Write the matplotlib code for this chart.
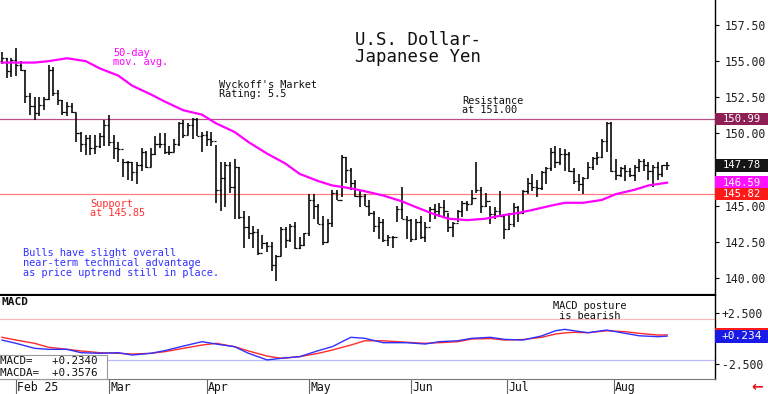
import matplotlib
matplotlib.use("Agg")
import matplotlib.pyplot as plt
from matplotlib.patches import Rectangle
from matplotlib.transforms import blended_transform_factory
import numpy as np

W, H = 768, 394
FONT = "DejaVu Sans Mono"

# ---- daily bars (trading-day index 0 = Jan 29 2025) ----
high = [155.6, 155.2, 155.2, 155.9, 155.0, 154.4, 152.8, 152.5, 152.5, 152.5,
        154.7, 154.6, 153.0, 152.3, 152.2, 152.1, 151.4, 150.1, 149.9, 149.9,
        149.9, 150.0, 150.9, 151.3, 149.9, 149.4, 148.2, 148.1, 148.0, 148.0,
        149.0, 148.8, 149.0, 149.8, 150.0, 150.0, 149.1, 149.6, 150.8, 150.9,
        150.7, 151.1, 151.1, 150.1, 150.2, 150.1, 149.2, 148.0, 148.0, 148.0,
        148.2, 147.7, 144.6, 144.3, 143.6, 143.4, 143.0, 142.5, 142.5, 141.6,
        143.5, 143.5, 143.7, 143.9, 142.8, 143.1, 145.8, 145.8, 145.1, 144.3,
        144.1, 146.1, 146.1, 148.5, 148.4, 147.6, 146.8, 146.1, 145.8, 145.4,
        144.6, 144.2, 144.1, 143.0, 142.9, 145.0, 146.3, 144.3, 144.1, 144.1,
        144.3, 143.9, 144.9, 145.1, 145.2, 145.4, 144.5, 143.9, 144.7, 145.3,
        145.3, 146.1, 148.0, 146.3, 145.9, 145.0, 144.9, 146.0, 144.3, 144.5,
        145.2, 145.0, 146.1, 146.9, 147.2, 146.8, 147.4, 147.7, 149.0, 149.1,
        149.0, 148.9, 148.7, 147.6, 147.2, 147.0, 148.0, 148.4, 148.7, 149.6,
        150.8, 150.8, 148.2, 147.7, 147.8, 147.6, 147.8, 148.2, 148.2, 148.0,
        147.8, 148.0, 147.8, 148.0]
low = [154.8, 153.8, 153.9, 154.0, 154.3, 152.1, 151.3, 150.9, 151.2, 151.6,
       152.3, 152.6, 152.0, 151.3, 151.2, 151.4, 149.4, 148.7, 148.5, 148.5,
       148.6, 149.0, 149.1, 149.1, 148.2, 148.0, 147.0, 146.8, 146.7, 146.5,
       147.4, 147.6, 147.7, 148.5, 149.0, 148.6, 148.5, 148.7, 149.1, 149.7,
       149.9, 149.6, 149.8, 148.7, 149.1, 149.1, 145.2, 144.6, 144.9, 145.9,
       144.1, 144.1, 142.1, 142.7, 142.1, 141.6, 142.0, 141.8, 140.5, 139.8,
       141.5, 142.1, 142.5, 142.0, 142.0, 142.2, 142.9, 144.1, 143.7, 142.3,
       142.5, 143.5, 145.4, 145.6, 146.6, 146.1, 145.6, 144.9, 145.0, 144.3,
       143.2, 142.7, 142.5, 142.2, 142.1, 143.9, 144.1, 142.7, 142.5, 142.6,
       142.7, 142.5, 143.9, 144.1, 144.2, 144.2, 143.2, 142.8, 143.9, 144.2,
       144.6, 145.1, 145.9, 144.5, 144.9, 143.7, 144.1, 144.2, 142.7, 143.3,
       143.5, 143.9, 144.4, 145.8, 146.0, 145.6, 146.1, 146.5, 147.4, 147.6,
       147.8, 147.4, 147.3, 146.5, 146.0, 145.8, 146.9, 147.5, 147.8, 148.3,
       148.7, 147.3, 146.8, 147.0, 146.7, 147.0, 146.7, 147.3, 147.4, 146.8,
       146.3, 146.8, 147.0, 147.5]
close = [155.2, 154.3, 155.1, 154.7, 154.4, 152.6, 151.9, 151.4, 152.0, 152.4,
         154.4, 152.8, 152.3, 151.5, 151.9, 151.5, 150.0, 149.3, 149.7, 149.0,
         149.1, 149.8, 150.6, 149.4, 149.0, 148.9, 148.0, 148.0, 147.3, 147.8,
         148.7, 147.7, 148.6, 149.3, 149.3, 148.7, 148.7, 149.3, 150.7, 149.9,
         150.6, 151.0, 149.8, 149.9, 149.6, 149.5, 146.1, 146.9, 147.8, 146.3,
         147.7, 144.2, 143.5, 143.1, 143.2, 141.7, 142.4, 142.2, 140.9, 141.5,
         143.4, 142.6, 143.6, 142.1, 142.3, 143.1, 145.4, 145.0, 143.7, 142.5,
         143.8, 145.9, 145.4, 148.4, 147.5, 146.6, 145.7, 145.7, 145.0, 144.5,
         143.6, 143.9, 142.6, 142.8, 142.8, 144.8, 144.1, 144.0, 142.7, 143.9,
         142.8, 143.5, 144.8, 144.6, 144.9, 144.6, 143.5, 143.8, 144.6, 145.2,
         145.1, 145.5, 146.1, 145.0, 145.3, 144.4, 144.6, 144.3, 143.4, 143.7,
         144.9, 144.5, 146.0, 146.6, 146.3, 146.2, 147.3, 147.6, 148.7, 148.0,
         148.6, 148.6, 147.4, 146.7, 146.5, 146.9, 147.7, 148.3, 148.4, 149.5,
         150.7, 147.4, 147.1, 147.6, 147.4, 147.1, 147.7, 148.1, 147.8, 147.4,
         147.7, 147.2, 147.8, 147.78]
first_open = 155.0

# ---- 50-day moving average ----
ma_idx = [0, 7, 10, 14, 18, 21, 25, 28, 32, 35, 39, 43, 46, 50, 53, 57, 61, 64,
          68, 71, 75, 78, 82, 86, 89, 93, 96, 100, 104, 107, 111, 114, 118, 121,
          125, 129, 132, 136, 139, 143]
ma_val = [154.9, 154.9, 155.0, 155.2, 155.0, 154.5, 154.0, 153.3, 152.7, 152.2,
          151.6, 151.3, 150.7, 150.1, 149.4, 148.6, 147.9, 147.2, 146.7, 146.4,
          146.2, 146.0, 145.7, 145.3, 144.9, 144.4, 144.1, 144.0, 144.1, 144.3,
          144.5, 144.7, 145.0, 145.2, 145.2, 145.4, 145.8, 146.1, 146.4, 146.59]

# ---- MACD panel ----
macd_idx = [0, 3, 7, 10, 14, 17, 21, 25, 28, 32, 35, 39, 43, 46, 50, 53, 57, 60,
            64, 68, 71, 75, 78, 82, 87, 91, 94, 98, 101, 105, 108, 112, 116, 119,
            121, 123, 126, 130, 134, 137, 141, 143]
macd_val = [-0.15, -0.47, -0.96, -1.06, -1.06, -1.39, -1.45, -1.39, -1.62, -1.45,
            -1.19, -0.74, -0.31, -0.54, -0.80, -1.45, -2.10, -1.94, -1.78, -1.19,
            -0.80, 0.12, 0.02, -0.41, -0.41, -0.54, -0.31, -0.22, 0.02, 0.12,
            -0.08, -0.15, 0.25, 0.76, 0.90, 0.76, 0.57, 0.83, 0.51, 0.27, 0.18,
            0.234]
macda_val = [0.12, -0.15, -0.47, -0.86, -1.06, -1.22, -1.39, -1.45, -1.52, -1.45,
             -1.29, -0.96, -0.64, -0.47, -0.80, -1.22, -1.72, -1.94, -1.78, -1.45,
             -1.13, -0.64, -0.22, -0.22, -0.37, -0.47, -0.41, -0.31, -0.05, 0.00,
             -0.15, -0.10, 0.12, 0.44, 0.55, 0.61, 0.57, 0.76, 0.67, 0.51, 0.34,
             0.3576]

month_labels = ["Feb 25", "Mar", "Apr", "May", "Jun", "Jul", "Aug"]
month_pos = [3, 23, 44, 66, 88, 108.5, 131.5]

price_ticks = [140.0, 142.5, 145.0, 147.5, 150.0, 152.5, 155.0, 157.5]
hidden_tick = 147.5          # label covered by the last-price box
resistance = 150.99
support = 145.82
last_close = 147.78
last_ma = 146.59
macd_last = 0.234
macda_last = 0.3576

# ---------------------------------------------------------------
fig = plt.figure(figsize=(W / 100, H / 100), dpi=100)
fig.patch.set_facecolor("white")


def fx(x):
    return x / W


def fy(y):
    return 1 - y / H


ax = fig.add_axes([0, fy(295), fx(715), (295) / H])
axm = fig.add_axes([0, fy(379), fx(715), (379 - 296) / H])

n = len(high)
idx = np.arange(n)
opens = [first_open] + close[:-1]

ax.set_xlim(-0.43, 153.3)
ax.set_ylim(138.82, 159.23)
ax.vlines(idx, low, high, color="black", lw=1.15, zorder=3)
ax.hlines(opens, idx - 0.45, idx, color="black", lw=0.9, zorder=3)
ax.hlines(close, idx, idx + 0.45, color="black", lw=0.9, zorder=3)
ax.plot(ma_idx, ma_val, color="#ff00ff", lw=1.6, zorder=4)
ax.axhline(resistance, color="#b8508a", lw=0.9, zorder=2)
ax.axhline(support, color="#ff8080", lw=0.9, zorder=2)

for s in ["top", "left"]:
    ax.spines[s].set_visible(False)
ax.spines["bottom"].set_linewidth(1.6)
ax.spines["right"].set_linewidth(1.0)
ax.set_xticks([])
ax.yaxis.tick_right()
ax.set_yticks(price_ticks)
ax.set_yticklabels(["" if v == hidden_tick else f"{v:.2f}" for v in price_ticks],
                   fontfamily=FONT, fontsize=8.3, color="#222222")
ax.tick_params(axis="y", direction="out", length=3, pad=4, width=0.8)

# right-side value boxes
tr = blended_transform_factory(ax.transAxes, ax.transData)
bw = 53 / 715
bh = 12.5 / 14.457
for val, col in [(resistance, "#8e1f55"), (last_close, "#151515"),
                 (last_ma, "#ff10ff"), (support, "#ff1a1a")]:
    ax.add_patch(Rectangle((1.0, val - bh / 2), bw, bh, transform=tr,
                           facecolor=col, edgecolor="none", clip_on=False, zorder=10))
    ax.text(1.0 + bw / 2, val, f"{val:.2f}", transform=tr, ha="center",
            va="center", color="white", fontfamily=FONT, fontsize=7.6,
            clip_on=False, zorder=11)

# annotations
fig.text(fx(355), fy(40), "U.S. Dollar-", fontfamily=FONT, fontsize=12.5,
         va="center", ha="left", color="#111111")
fig.text(fx(355), fy(57), "Japanese Yen", fontfamily=FONT, fontsize=12.5,
         va="center", ha="left", color="#111111")
fig.text(fx(113), fy(57.5), "50-day\nmov. avg.", fontfamily=FONT, fontsize=7.4,
         va="center", ha="left", color="#ff00ff", linespacing=0.95)
fig.text(fx(219), fy(89.5), "Wyckoff's Market\nRating: 5.5", fontfamily=FONT,
         fontsize=7.4, va="center", ha="left", color="#111111", linespacing=0.95)
fig.text(fx(462), fy(105.5), "Resistance\nat 151.00", fontfamily=FONT,
         fontsize=7.4, va="center", ha="left", color="#111111", linespacing=0.95)
fig.text(fx(90), fy(208.5), "Support\nat 145.85", fontfamily=FONT,
         fontsize=7.4, va="center", ha="left", color="#ff3030", linespacing=0.95)
fig.text(fx(23), fy(263), "Bulls have slight overall\nnear-term technical advantage\n"
         "as price uptrend still in place.", fontfamily=FONT, fontsize=7.4,
         va="center", ha="left", color="#3333ff", linespacing=0.95)

# ---- MACD axes ----
axm.set_xlim(-0.43, 153.3)
axm.set_ylim(-3.97, 4.17)
axm.axhline(1.9, color="#ffb8b8", lw=0.9)
axm.axhline(-2.1, color="#b8b8ff", lw=0.9)
axm.plot(macd_idx, macda_val, color="#ff2a2a", lw=1.0, zorder=3)
axm.plot(macd_idx, macd_val, color="#3030ff", lw=1.0, zorder=4)
axm.spines["top"].set_visible(False)
axm.spines["left"].set_visible(False)
axm.spines["bottom"].set_color("#777777")
axm.spines["bottom"].set_linewidth(0.8)
axm.spines["right"].set_linewidth(1.0)
axm.yaxis.tick_right()
axm.set_yticks([-2.5, 0, 2.5])
axm.set_yticklabels(["-2.500", "", "+2.500"], fontfamily=FONT, fontsize=8.3,
                    color="#222222")
axm.tick_params(axis="y", direction="out", length=3, pad=2, width=0.8)
axm.set_xticks(month_pos)
axm.set_xticklabels([])
axm.tick_params(axis="x", direction="out", length=11, width=0.8, color="#666666")
trx = blended_transform_factory(axm.transData, axm.transAxes)
for p, lab in zip(month_pos, month_labels):
    axm.text(p + 0.3, -0.1, lab, transform=trx, ha="left", va="center",
             fontfamily=FONT, fontsize=8.3, color="#111111", clip_on=False)

trm = blended_transform_factory(axm.transAxes, axm.transData)
mbh = 13 / 10.2
for val, col, txt in [(macda_last, "#ff1a1a", ""), (macd_last, "#1a1ae6", f"+{macd_last:.3f}")]:
    axm.add_patch(Rectangle((1.0, val - mbh / 2), bw, mbh, transform=trm,
                            facecolor=col, edgecolor="none", clip_on=False, zorder=10))
    if txt:
        axm.text(1.0 + bw / 2, val, txt, transform=trm, ha="center", va="center",
                 color="white", fontfamily=FONT, fontsize=8.0, clip_on=False, zorder=11)

fig.text(fx(1), fy(302), "MACD", fontfamily=FONT, fontsize=8, fontweight="bold",
         va="center", ha="left", color="#111111")
fig.text(fx(553), fy(311), "MACD posture\n is bearish", fontfamily=FONT,
         fontsize=7.4, va="center", ha="left", color="#111111", linespacing=0.95)
fig.patches.append(Rectangle((fx(-2), fy(379)), fx(109), (379 - 355) / H,
                             transform=fig.transFigure, facecolor="white",
                             edgecolor="#999999", lw=0.8, zorder=5))
fig.text(fx(0), fy(361), f"MACD=   +{macd_last:.4f}", fontfamily=FONT, fontsize=7.8,
         va="center", ha="left", color="#111111", zorder=6)
fig.text(fx(0), fy(373), f"MACDA=  +{macda_last:.4f}", fontfamily=FONT, fontsize=7.8,
         va="center", ha="left", color="#111111", zorder=6)

# small red arrow bottom-right
fig.text(fx(757), fy(387), "\u2190", fontfamily="DejaVu Sans", fontsize=10,
         fontweight="bold", color="#e01010", ha="center", va="center")

fig.savefig("out.png", dpi=100, facecolor="white")
